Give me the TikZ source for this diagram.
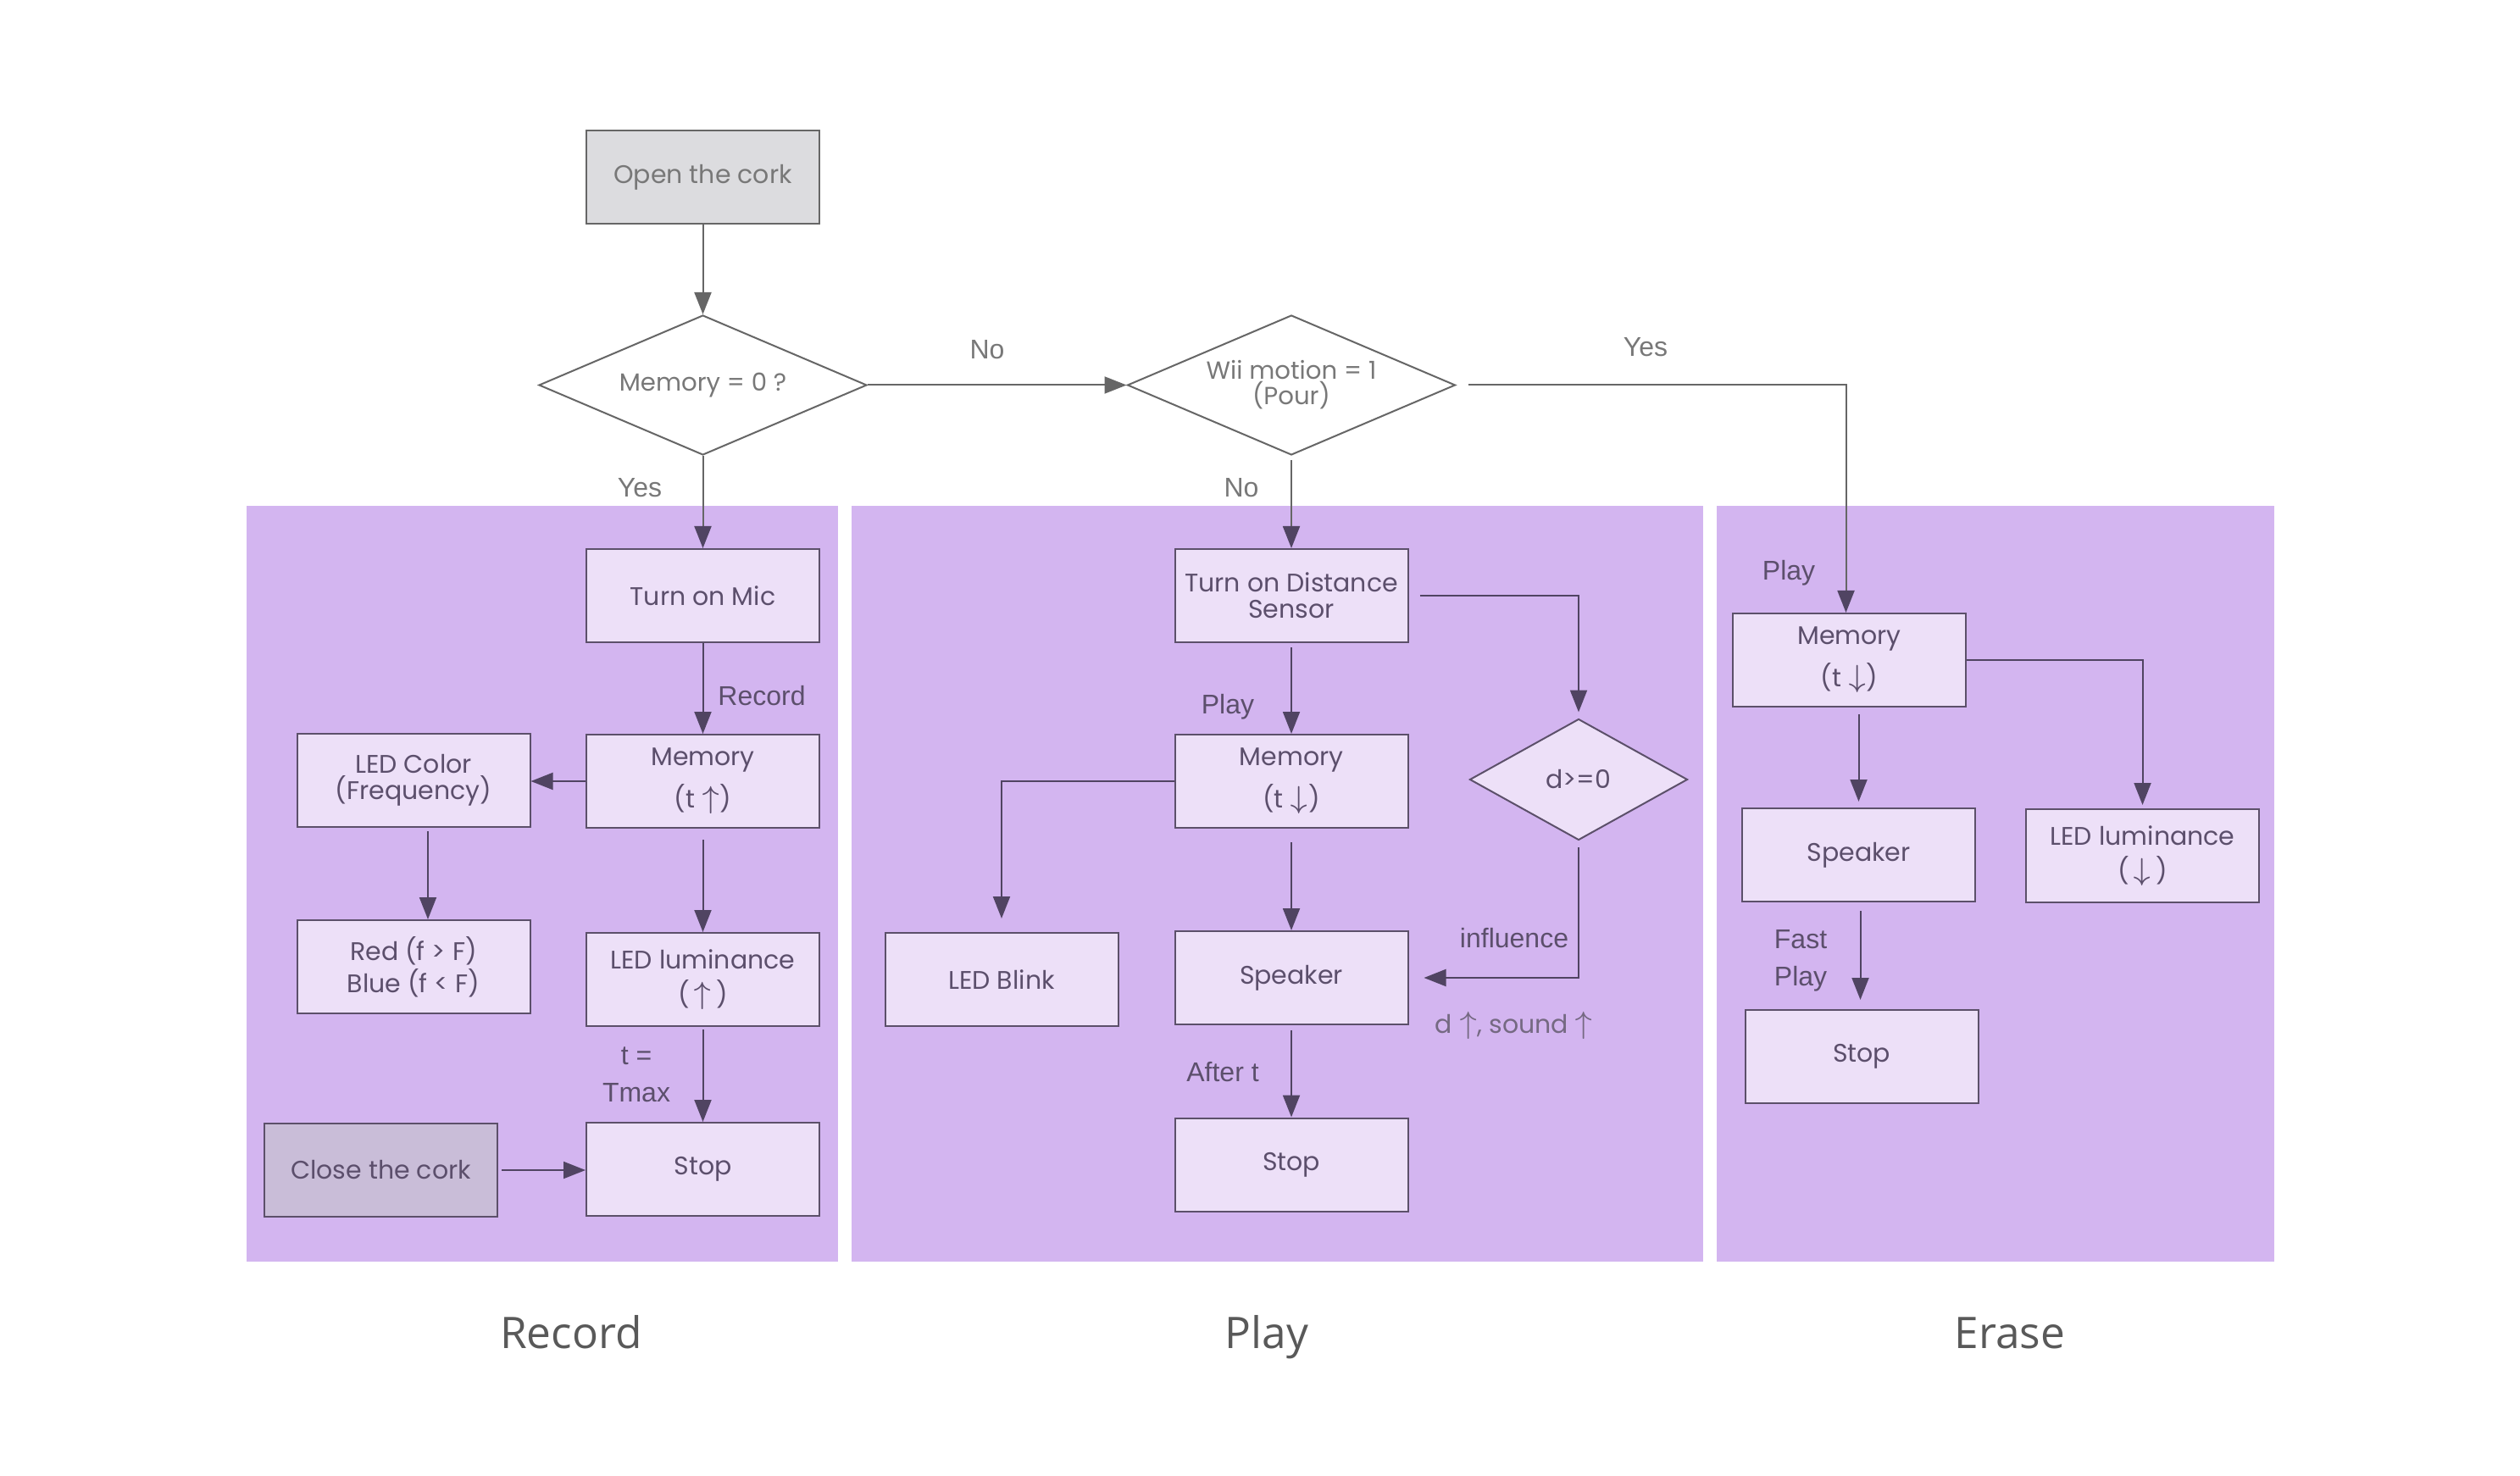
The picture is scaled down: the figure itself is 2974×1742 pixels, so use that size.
\documentclass[tikz,border=0pt]{standalone}
\usepackage{graphicx}
\usepackage{fontspec}
\setmainfont{Liberation Sans}
\newfontfamily\boxf{Poppins}
\newfontfamily\capf{Open Sans}
\usetikzlibrary{shapes.geometric,arrows.meta}
\newcommand\myup{\scalebox{1.3}{$\uparrow$}}
\newcommand\mydown{\scalebox{1.3}{$\downarrow$}}
\definecolor{panelc}{RGB}{211,181,240}
\definecolor{boxfill}{RGB}{237,224,248}
\definecolor{boxline}{RGB}{92,80,106}
\definecolor{ptext}{RGB}{92,79,108}
\definecolor{parrow}{RGB}{80,68,98}
\definecolor{gline}{RGB}{102,102,102}
\definecolor{gtext}{RGB}{120,120,120}
\definecolor{openfill}{RGB}{220,220,223}
\definecolor{closefill}{RGB}{201,189,216}
\definecolor{captext}{RGB}{89,89,89}
\begin{document}
\begin{tikzpicture}[x=0.25pt,y=-0.25pt,
  panel/.style={fill=panelc,draw=none},
  box/.style={draw=boxline,line width=0.5pt,fill=boxfill,minimum width=68.75pt,minimum height=27.5pt,
    inner sep=0pt,align=center,text=ptext,font=\boxf\fontsize{7.5}{7.75}\selectfont},
  gbox/.style={box,fill=openfill,draw=gline,text=gtext},
  cbox/.style={box,fill=closefill},
  gdia/.style={diamond,draw=gline,line width=0.5pt,fill=white,inner sep=0pt,aspect=2.35,
    minimum width=96.75pt,minimum height=41.25pt,align=center,text=gtext,font=\boxf\fontsize{7.3}{7.5}\selectfont},
  pdia/.style={diamond,draw=boxline,line width=0.5pt,fill=boxfill,inner sep=0pt,aspect=1.8,
    minimum width=64.25pt,minimum height=35.75pt,align=center,text=ptext,font=\boxf\fontsize{7.5}{7.75}\selectfont},
  arr/.style={draw=parrow,line width=0.5pt,-{Triangle[length=6.5pt,width=5pt]}},
  garr/.style={draw=gline,line width=0.5pt,-{Triangle[length=6.5pt,width=5pt]}},
  gparr/.style={draw=gline,line width=0.5pt,-{Triangle[length=6.5pt,width=5pt,color=parrow]}},
  glab/.style={text=gtext,font=\fontsize{8}{11}\selectfont,inner sep=0pt,align=center},
  plab/.style={text=ptext,font=\fontsize{8}{11}\selectfont,inner sep=0pt,align=center},
  caplab/.style={text=captext,font=\capf\fontsize{12.85}{15}\selectfont,inner sep=0pt,anchor=base}
]
\useasboundingbox (0,0) rectangle (2974,1742);
\fill[white] (0,0) rectangle (2974,1742);

% panels
\fill[panel] (290.5,597) rectangle (988.5,1489);
\fill[panel] (1005,597) rectangle (2010,1489);
\fill[panel] (2026,597) rectangle (2683.5,1489);

% top part
\node[gbox] (open) at (829.5,209) {Open the cork};
\node[gdia] (mem0) at (829.5,454.5) {Memory = 0 ?};
\node[gdia] (wii) at (1524,454.5) {Wii motion = 1\\(Pour)};

% record panel
\node[box] (mic) at (829.5,703) {Turn on Mic};
\node[box] (rmem) at (829.5,922) {Memory\\[2.5pt](t \myup)};
\node[box] (ledc) at (488,921) {LED Color\\(Frequency)};
\node[box] (red) at (488,1141) {Red (f > F)\\Blue (f < F)};
\node[box] (rlum) at (829.5,1156) {LED luminance\\[2.5pt](\,\myup\,)};
\node[box] (rstop) at (829.5,1380) {Stop};
\node[cbox] (close) at (449.5,1381) {Close the cork};

% play panel
\node[box] (dist) at (1524,703) {Turn on Distance\\Sensor};
\node[box] (pmem) at (1524,922) {Memory\\[2.5pt](t \mydown)};
\node[pdia] (dd) at (1863,920) {d>=0};
\node[box] (blink) at (1182,1156) {LED Blink};
\node[box] (spk) at (1524,1154) {Speaker};
\node[box] (pstop) at (1524,1374.5) {Stop};

% erase panel
\node[box] (ermem) at (2182.5,779) {Memory\\[2.5pt](t \mydown)};
\node[box] (espk) at (2193.5,1009) {Speaker};
\node[box] (elum) at (2528.5,1010) {LED luminance\\[2.5pt](\,\mydown\,)};
\node[box] (estop) at (2197,1247) {Stop};

% connectors outside
\draw[garr] (open) -- (mem0);
\draw[garr] (mem0) -- (wii);
\draw[gparr,shorten <=3.5pt] (wii.east) -| ([xshift=-1pt]ermem.north);
\draw[gparr] (mem0) -- (mic);
\draw[gparr,shorten <=1.2pt] (wii) -- (dist);

% record connectors
\draw[arr] (mic) -- (rmem);
\draw[arr] (rmem.west) -- (rmem.west -| ledc.east);
\draw[arr,shorten <=1pt] ([xshift=4.25pt]ledc.south) -- ([xshift=4.25pt]red.north);
\draw[arr,shorten <=3.25pt] (rmem) -- (rlum);
\draw[arr,shorten <=0.75pt] (rlum) -- (rstop);
\draw[arr,shorten <=1pt] (close.east) -- (close.east -| rstop.west);

% play connectors
\draw[arr,shorten <=1.25pt] (dist) -- (pmem);
\draw[arr,shorten <=3.25pt,shorten >=1.75pt] (dist.east) -| (dd.north);
\draw[arr,shorten >=4pt] (pmem.west) -| (blink.north);
\draw[arr,shorten <=4pt] (pmem) -- (spk);
\draw[arr,shorten <=1.9pt,shorten >=4.5pt] (dd.south) |- (spk.east);
\draw[arr,shorten <=1.4pt] (spk) -- (pstop);

% erase connectors
\draw[arr,shorten >=1pt] (ermem.east) -| (elum.north);
\draw[arr,shorten <=2pt,shorten >=1.75pt] (espk.north |- ermem.south) -- (espk.north);
\draw[arr,shorten <=2.5pt,shorten >=2.75pt] ([xshift=0.5pt]espk.south) -- ([xshift=0.5pt]espk.south |- estop.north);

% labels outside
\node[glab] (lno1) at (1165,413) {No};
\node[glab] (lyes1) at (1942,410) {Yes};
\node[glab] (lyes2) at (755,576) {Yes};
\node[glab] (lno2) at (1465,576) {No};

% labels inside
\node[plab] (lrec) at (899,821) {Record};
\node[plab] (ltmax) at (751,1268) {t =\\Tmax};
\node[plab] (lplay1) at (1449,834) {Play};
\node[plab] (linf) at (1787,1107) {influence};
\node[text=ptext!85!white,font=\boxf\fontsize{7.5}{8}\selectfont,inner sep=0pt] (lds) at (1787,1210) {d \myup, sound \myup};
\node[plab] (lafter) at (1443,1265) {After t};
\node[plab] (lplay2) at (2111,676) {Play};
\node[plab] (lfast) at (2125,1134) {Fast\\Play};

% captions
\node[caplab] (crec) at (674,1591) {Record};
\node[caplab] (cplay) at (1495,1591) {Play};
\node[caplab] (cerase) at (2372,1591) {Erase};
\end{tikzpicture}
\end{document}
